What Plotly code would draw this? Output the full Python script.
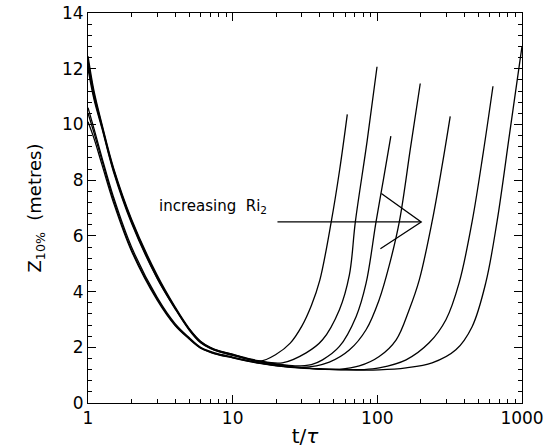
import numpy as np
import plotly.graph_objects as go

# ---- data ----
t_desc = [1, 1.1, 1.25, 1.5, 2, 3, 4, 5, 6, 7, 8, 10]

t_c1 = t_desc + [15.4, 20, 25, 30, 35, 40, 48, 55, 62]
z_c1 = [12.45, 11.2, 10.0, 8.45, 6.6, 4.6, 3.45, 2.68, 2.22, 2.0, 1.88, 1.75,
        1.5, 1.75, 2.15, 2.75, 3.5, 4.4, 6.5, 8.4, 10.36]

t_c2 = t_desc + [15, 22, 32.2, 41.8, 54.7, 64.1, 70.5, 85, 99.5]
z_c2 = [12.3, 11.1, 9.95, 8.4, 6.55, 4.55, 3.42, 2.66, 2.2, 1.99, 1.87, 1.74,
        1.52, 1.44, 1.8, 2.27, 3.35, 4.6, 6.51, 9.4, 12.07]

t_c3 = t_desc + [15, 20, 27, 35, 41.8, 54.7, 71.3, 83.6, 98, 110, 124]
z_c3 = [12.15, 11.0, 9.9, 8.35, 6.5, 4.5, 3.4, 2.64, 2.18, 1.97, 1.85, 1.72,
        1.5, 1.4, 1.33, 1.38, 1.55, 2.03, 3.1, 4.3, 6.51, 8.0, 9.58]

t_c4 = t_desc + [15, 20, 30, 46.6, 64, 83.6, 103, 121, 142, 170, 198]
z_c4 = [12.0, 10.9, 9.85, 8.3, 6.45, 4.48, 3.38, 2.62, 2.16, 1.96, 1.84, 1.71,
        1.49, 1.38, 1.28, 1.47, 1.9, 2.63, 3.71, 4.95, 6.51, 9.2, 11.47]

t_c5 = t_desc + [15, 20, 30, 40, 54.7, 75, 103, 135, 166, 195, 239, 280, 319]
z_c5 = [10.6, 9.85, 8.8, 7.4, 5.6, 3.8, 2.85, 2.35, 2.0, 1.85, 1.76, 1.65,
        1.45, 1.35, 1.27, 1.22, 1.21, 1.33, 1.67, 2.27, 3.35, 4.42, 6.51, 8.5, 10.29]

t_c6 = t_desc + [15, 20, 30, 40, 60, 80, 103, 158, 228, 298, 368, 452, 540, 630]
z_c6 = [10.4, 9.7, 8.7, 7.3, 5.5, 3.75, 2.8, 2.32, 1.98, 1.83, 1.74, 1.63,
        1.44, 1.34, 1.26, 1.22, 1.2, 1.2, 1.26, 1.55, 2.16, 2.99, 4.32, 6.51, 9.0, 11.37]

t_c7 = t_desc + [15, 20, 30, 40, 60, 103, 158, 239, 349, 452, 562, 672, 820, 1000]
z_c7 = [10.1, 9.5, 8.55, 7.2, 5.45, 3.7, 2.78, 2.3, 1.97, 1.82, 1.73, 1.62,
        1.43, 1.33, 1.25, 1.22, 1.19, 1.19, 1.26, 1.44, 1.91, 2.74, 4.32, 6.51, 9.65, 12.8]

curves = [(t_c1, z_c1), (t_c2, z_c2), (t_c3, z_c3), (t_c4, z_c4),
          (t_c5, z_c5), (t_c6, z_c6), (t_c7, z_c7)]

# annotation arrow (horizontal shaft + two barbs)
arrow_shaft_t = [20.4, 201]
arrow_shaft_z = [6.5, 6.5]
arrow_barbs_t = [106.6, 201, 105]
arrow_barbs_z = [7.52, 6.5, 5.54]
label_t = 3.0
label_z = 7.05
label_text = "increasing  Ri<sub>2</sub>"

fig = go.Figure()
for t, z in curves:
    fig.add_trace(go.Scatter(x=t, y=z, mode="lines",
                             line=dict(color="black", width=1.3, shape="spline", smoothing=1.0),
                             showlegend=False))

fig.add_trace(go.Scatter(x=arrow_shaft_t, y=arrow_shaft_z, mode="lines",
                         line=dict(color="black", width=1.3), showlegend=False))
fig.add_trace(go.Scatter(x=arrow_barbs_t, y=arrow_barbs_z, mode="lines",
                         line=dict(color="black", width=1.3), showlegend=False))
# invisible trace carrying the minor-tick overlay axes
fig.add_trace(go.Scatter(x=[1, 1000], y=[0, 14], xaxis="x2", yaxis="y2", mode="markers",
                         marker=dict(opacity=0), showlegend=False))

fig.add_annotation(x=np.log10(label_t), y=label_z, xref="x", yref="y",
                   text=label_text, showarrow=False,
                   xanchor="left", yanchor="middle",
                   font=dict(family="DejaVu Sans", size=15, color="black"))

tickfont = dict(family="DejaVu Sans", size=17, color="black")

fig.update_layout(
    width=546, height=448, margin=dict(l=88, r=24, t=13, b=45, autoexpand=False),
    paper_bgcolor="white", plot_bgcolor="white",
    xaxis=dict(type="log", range=[0, 3.0], dtick=1, automargin=False,
               ticks="inside", ticklen=8, tickwidth=1, tickcolor="black",
               showline=True, linecolor="black", mirror="ticks",
               showgrid=False, tickfont=tickfont,
               title=dict(text="t/<i>τ</i>", font=dict(family="DejaVu Sans", size=20, color="black"))),
    yaxis=dict(range=[0, 14], tick0=0, dtick=2, automargin=False,
               ticks="inside", ticklen=8, tickwidth=1, tickcolor="black",
               showline=True, linecolor="black", mirror="ticks",
               showgrid=False, tickfont=tickfont,
               title=dict(text="Z<sub>10%</sub>  (metres)",
                          font=dict(family="DejaVu Sans", size=18, color="black"))),
    xaxis2=dict(type="log", range=[0, 3.0], overlaying="x", anchor="y", side="bottom",
                automargin=False, dtick="D1", ticks="inside", ticklen=4, tickwidth=1,
                tickcolor="black", showticklabels=False, showline=False, mirror="ticks",
                showgrid=False, zeroline=False),
    yaxis2=dict(range=[0, 14], overlaying="y", anchor="x", side="left", automargin=False,
                tick0=0, dtick=0.4, ticks="inside", ticklen=4, tickwidth=1,
                tickcolor="black", showticklabels=False, showline=False, mirror="ticks",
                showgrid=False, zeroline=False),
)

fig.write_html("out.html")
